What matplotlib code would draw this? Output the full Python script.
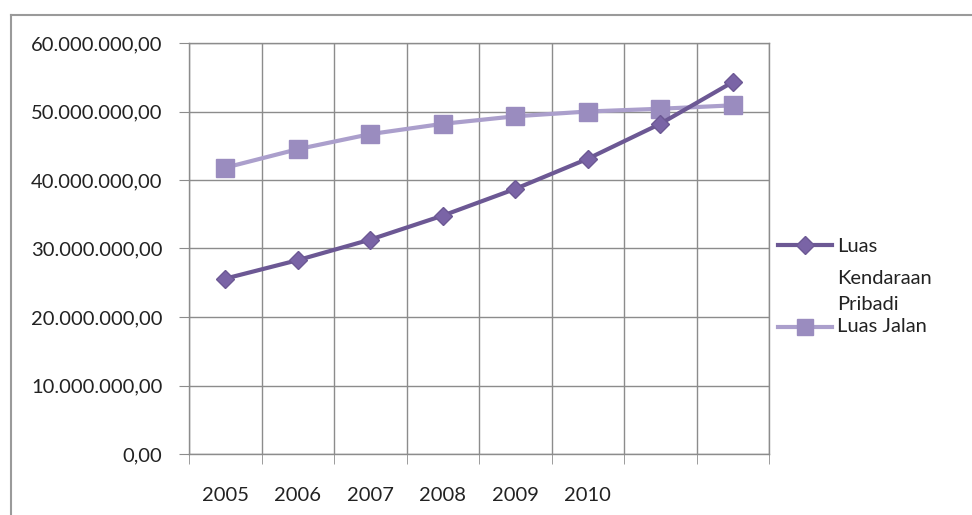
import matplotlib.pyplot as plt
import numpy as np
from matplotlib.lines import Line2D
from matplotlib.ticker import FuncFormatter

plt.rcParams['font.family'] = ['Lato', 'DejaVu Sans']

# data
years = ['2005', '2006', '2007', '2008', '2009', '2010', '', '']
kendaraan = [25.6e6, 28.3e6, 31.3e6, 34.8e6, 38.7e6, 43.1e6, 48.2e6, 54.3e6]
jalan = [41.8e6, 44.5e6, 46.7e6, 48.2e6, 49.3e6, 50.0e6, 50.4e6, 50.9e6]

c_kend = '#6c5894'
c_kend_m = '#7a64a6'
c_jalan = '#ab9fcc'
c_jalan_m = '#9a8cbf'
grid_c = '#8c8c8c'
txt_c = '#222222'
fs = 14.5

fig = plt.figure(figsize=(9.72, 5.15), dpi=100)
ax = fig.add_axes([189/972, 1 - 454/515, (769 - 189)/972, (454 - 43)/515])

x = np.arange(len(years))
ax.plot(x, kendaraan, color=c_kend, lw=3, marker='D', ms=9.5,
        mfc=c_kend_m, mec=c_kend, zorder=4)
ax.plot(x, jalan, color=c_jalan, lw=3, marker='s', ms=13,
        mfc=c_jalan_m, mec=c_jalan_m, zorder=3)

ax.set_xlim(-0.5, len(years) - 0.5)
ax.set_ylim(0, 60e6)
ax.set_yticks(np.arange(0, 60e6 + 1, 10e6))
ax.yaxis.set_major_formatter(FuncFormatter(
    lambda v, p: '{:,.2f}'.format(v).replace(',', 'X').replace('.', ',').replace('X', '.')))
ax.set_xticks(x)
ax.set_xticklabels(years)
ax.set_xticks(np.arange(-0.5, len(years)), minor=True)

ax.grid(True, which='minor', axis='x', color=grid_c, lw=1)
ax.grid(True, which='major', axis='y', color=grid_c, lw=1)
for s in ax.spines.values():
    s.set_color(grid_c)
    s.set_linewidth(1)

ax.tick_params(axis='x', which='major', length=0, pad=24, labelsize=fs, labelcolor=txt_c)
ax.tick_params(axis='x', which='minor', length=7, color=grid_c, direction='out')
ax.tick_params(axis='y', length=7, color=grid_c, pad=12, labelsize=fs, labelcolor=txt_c)

# legend drawn by hand, Excel-style
def fx(px):
    return px / 972

def fy(py):
    return 1 - py / 515

fig.add_artist(Line2D([fx(778), fx(832)], [fy(245), fy(245)], color=c_kend, lw=3,
                      transform=fig.transFigure))
fig.add_artist(Line2D([fx(805)], [fy(245)], color=c_kend, lw=0, marker='D', ms=9,
                      mfc=c_kend_m, mec=c_kend, transform=fig.transFigure))
fig.add_artist(Line2D([fx(778), fx(832)], [fy(327), fy(327)], color=c_jalan, lw=3,
                      transform=fig.transFigure))
fig.add_artist(Line2D([fx(805)], [fy(327)], color=c_jalan, lw=0, marker='s', ms=12,
                      mfc=c_jalan_m, mec=c_jalan_m, transform=fig.transFigure))
for txt, py in [('Luas', 246), ('Kendaraan', 278), ('Pribadi', 305), ('Luas Jalan', 326)]:
    fig.text(fx(837), fy(py), txt, fontsize=fs, color=txt_c, va='center', ha='left')

# chart frame
fig.add_artist(Line2D([fx(11), 1], [fy(15), fy(15)], color='#9a9a9a', lw=1.5,
                      transform=fig.transFigure))
fig.add_artist(Line2D([fx(11), fx(11)], [0, fy(15)], color='#9a9a9a', lw=1.5,
                      transform=fig.transFigure))

fig.savefig('out.png', dpi=100)
